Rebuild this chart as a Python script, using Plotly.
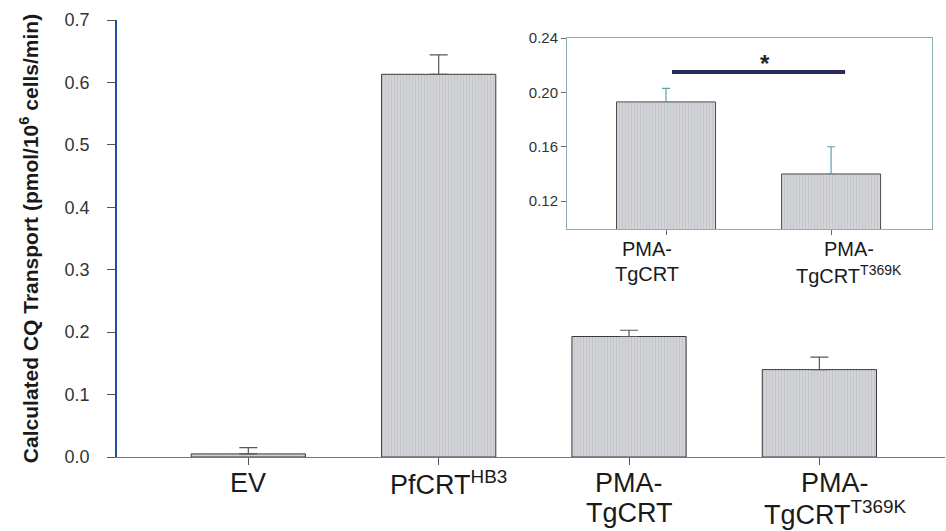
import plotly.graph_objects as go

# Main chart data
categories = ["EV", "PfCRT<sup>HB3</sup>", "PMA-TgCRT", "PMA-TgCRT<sup>T369K</sup>"]
label_line1 = ["EV", "PfCRT<sup>HB3</sup>", "PMA-", "PMA-"]
label_line2 = ["", "", "TgCRT", "TgCRT<sup>T369K</sup>"]
values = [0.005, 0.613, 0.193, 0.140]
errors = [0.010, 0.031, 0.010, 0.020]

# Inset data
inset_line1 = ["PMA-", "PMA-"]
inset_line2 = ["TgCRT", "TgCRT<sup>T369K</sup>"]
inset_values = [0.193, 0.140]
inset_errors = [0.010, 0.020]

y_ticks = [0.0, 0.1, 0.2, 0.3, 0.4, 0.5, 0.6, 0.7]
inset_ticks = [0.12, 0.16, 0.20, 0.24]

FONT = "Liberation Sans, Arial, sans-serif"
bar_pattern = dict(shape="|", fgcolor="#a8b4c4", bgcolor="#d8d6d8", size=3, solidity=0.45)

fig = go.Figure()
fig.add_trace(go.Bar(
    x=list(range(len(categories))), y=values, width=0.6,
    marker=dict(color="#d0d0d0", pattern=bar_pattern, line=dict(color="#3a3a3a", width=1)),
    error_y=dict(type="data", array=errors, arrayminus=[0] * len(errors), symmetric=False,
                 color="#555a50", thickness=1.2, width=9),
    xaxis="x", yaxis="y", showlegend=False, hovertext=categories,
))
fig.add_trace(go.Bar(
    x=list(range(len(inset_values))), y=inset_values, width=0.6,
    marker=dict(color="#d0d0d0", pattern=bar_pattern, line=dict(color="#4a4a4a", width=1)),
    error_y=dict(type="data", array=inset_errors, arrayminus=[0] * len(inset_errors), symmetric=False,
                 color="#60a0a8", thickness=1.2, width=4),
    xaxis="x2", yaxis="y2", showlegend=False,
))

fig.update_layout(
    width=946, height=531,
    margin=dict(l=117, r=1, t=20, b=74),
    paper_bgcolor="white", plot_bgcolor="white",
    font=dict(family=FONT, color="#222"),
    xaxis=dict(
        domain=[0, 1], range=[-0.69, 3.66], automargin=False,
        tickvals=list(range(len(categories))), showticklabels=False,
        showline=True, linecolor="#777", linewidth=1,
        ticks="outside", ticklen=7, tickcolor="#555",
        showgrid=False, zeroline=False,
    ),
    yaxis=dict(
        domain=[0, 1], range=[0, 0.7], automargin=False,
        tickvals=y_ticks, ticktext=[f"{v:.1f}" for v in y_ticks],
        tickfont=dict(size=18, color="#333"),
        showline=True, linecolor="#1f4e9a", linewidth=1.5,
        ticks="outside", ticklen=8, tickcolor="#555",
        ticklabelstandoff=14,
        showgrid=False, zeroline=False,
        title=dict(text="<b>Calculated CQ Transport (pmol/10<sup>6</sup> cells/min)</b>",
                   font=dict(size=21, color="#1a1a1a"), standoff=20),
    ),
    xaxis2=dict(
        domain=[0.5435, 0.984], range=[-0.6, 1.61], anchor="y2", automargin=False,
        tickvals=list(range(len(inset_values))), showticklabels=False,
        showline=True, linecolor="#8ab0b4", linewidth=1, mirror=True,
        ticks="outside", ticklen=5, tickcolor="#666",
        showgrid=False, zeroline=False,
    ),
    yaxis2=dict(
        domain=[0.5217, 0.9588], range=[0.0995, 0.24], anchor="x2", automargin=False,
        tickvals=inset_ticks, ticktext=[f"{v:.2f}" for v in inset_ticks],
        tickfont=dict(size=15, color="#333"),
        showline=True, linecolor="#8ab0b4", linewidth=1, mirror=True,
        ticks="outside", ticklen=5, tickcolor="#666",
        showgrid=False, zeroline=False,
    ),
)

# Category labels for main chart (two lines, tight spacing)
main_xshift = [0, 10, 0, 16]
for i, (l1, l2) in enumerate(zip(label_line1, label_line2)):
    fig.add_annotation(xref="x", yref="paper", x=i, y=0, yshift=-26, xshift=main_xshift[i],
                       text=l1, showarrow=False, yanchor="middle",
                       font=dict(size=27, color="#1a1a1a"))
    if l2:
        fig.add_annotation(xref="x", yref="paper", x=i, y=0, yshift=-56, xshift=main_xshift[i],
                           text=l2, showarrow=False, yanchor="middle",
                           font=dict(size=27, color="#1a1a1a"))

# Category labels for inset
inset_xshift = [-19, 18]
for i, (l1, l2) in enumerate(zip(inset_line1, inset_line2)):
    fig.add_annotation(xref="x2", yref="paper", x=i, y=0.5217, yshift=-20, xshift=inset_xshift[i],
                       text=l1, showarrow=False, yanchor="middle",
                       font=dict(size=20, color="#1a1a1a"))
    fig.add_annotation(xref="x2", yref="paper", x=i, y=0.5217, yshift=-45, xshift=inset_xshift[i],
                       text=l2, showarrow=False, yanchor="middle",
                       font=dict(size=20, color="#1a1a1a"))

fig.add_shape(type="line", xref="x2", yref="y2", x0=0.036, x1=1.085, y0=0.215, y1=0.215,
              line=dict(color="#2a2a5a", width=4))
fig.add_annotation(xref="x2", yref="y2", x=0.6, y=0.2215, text="<b>*</b>", showarrow=False,
                   font=dict(size=24, color="#222"))

fig.write_html("out.html", config={"displayModeBar": False},
               post_script="document.body.style.margin='0';")
